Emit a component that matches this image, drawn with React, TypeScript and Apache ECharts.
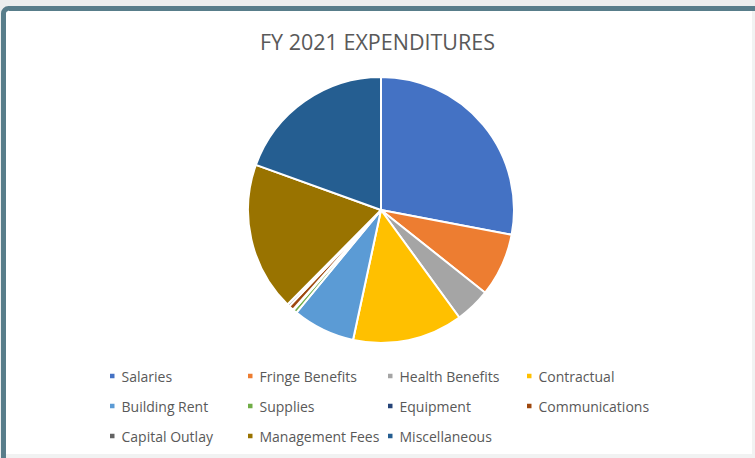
import React, { useEffect, useRef } from "react";
import * as echarts from "echarts";

const categories = [
  "Salaries",
  "Fringe Benefits",
  "Health Benefits",
  "Contractual",
  "Building Rent",
  "Supplies",
  "Equipment",
  "Communications",
  "Capital Outlay",
  "Management Fees",
  "Miscellaneous",
];
const values = [28.0, 7.7, 4.3, 13.4, 7.6, 0.45, 0.1, 0.6, 0.3, 18.1, 19.5];
const colors = [
  "#4472C4",
  "#ED7D31",
  "#A5A5A5",
  "#FFC000",
  "#5B9BD5",
  "#70AD47",
  "#264478",
  "#9E480E",
  "#636363",
  "#997300",
  "#255E91",
];
const legendColumns = [
  ["Salaries", "Building Rent", "Capital Outlay"],
  ["Fringe Benefits", "Supplies", "Management Fees"],
  ["Health Benefits", "Equipment", "Miscellaneous"],
  ["Contractual", "Communications"],
];
const legendLefts = [108, 246, 386, 525];

export default function App() {
  const ref = useRef<HTMLDivElement>(null);
  useEffect(() => {
    document.body.style.margin = "0";
    const chart = echarts.init(ref.current!, null, { renderer: "svg" });
    const font = "'Open Sans', sans-serif";
    chart.setOption({
      animation: false,
      backgroundColor: "#ffffff",
      color: colors,
      title: {
        text: "FY 2021 EXPENDITURES",
        left: "center",
        top: 25,
        textStyle: {
          fontFamily: font,
          fontSize: 21.5,
          fontWeight: "normal",
          color: "#595959",
        },
      },
      graphic: [
        { type: "rect", z: -10, shape: { x: 0, y: 0, width: 755, height: 458 }, style: { fill: "#eceeee" } },
        {
          type: "rect",
          z: -9,
          shape: { x: 3.5, y: 8.5, width: 900, height: 600, r: 5 },
          style: { fill: "#ffffff", stroke: "#587d8a", lineWidth: 5 },
        },
        { type: "rect", z: -8, shape: { x: 752, y: 11, width: 3, height: 447 }, style: { fill: "#f1f2f2" } },
        { type: "rect", z: -8, shape: { x: 6, y: 454, width: 749, height: 4 }, style: { fill: "#f1f2f2" } },
      ],
      legend: legendColumns.map((col, i) => ({
        data: col,
        orient: "vertical",
        left: legendLefts[i],
        top: 368,
        padding: 0,
        itemGap: 14,
        itemWidth: 6.5,
        itemHeight: 6.5,
        icon: "rect",
        selectedMode: false,
        textStyle: {
          fontFamily: font,
          fontSize: 14,
          color: "#595959",
          lineHeight: 16,
          padding: [0, 0, 0, 1],
        },
      })),
      series: [
        {
          type: "pie",
          center: [381, 210],
          radius: 133,
          startAngle: 90,
          clockwise: true,
          label: { show: false },
          labelLine: { show: false },
          emphasis: { disabled: true },
          itemStyle: { borderColor: "#ffffff", borderWidth: 2 },
          data: categories.map((name, i) => ({ name, value: values[i] })),
        },
      ],
    });
    return () => chart.dispose();
  }, []);
  return <div ref={ref} style={{ position: "absolute", left: 0, top: 0, width: 755, height: 458 }} />;
}
